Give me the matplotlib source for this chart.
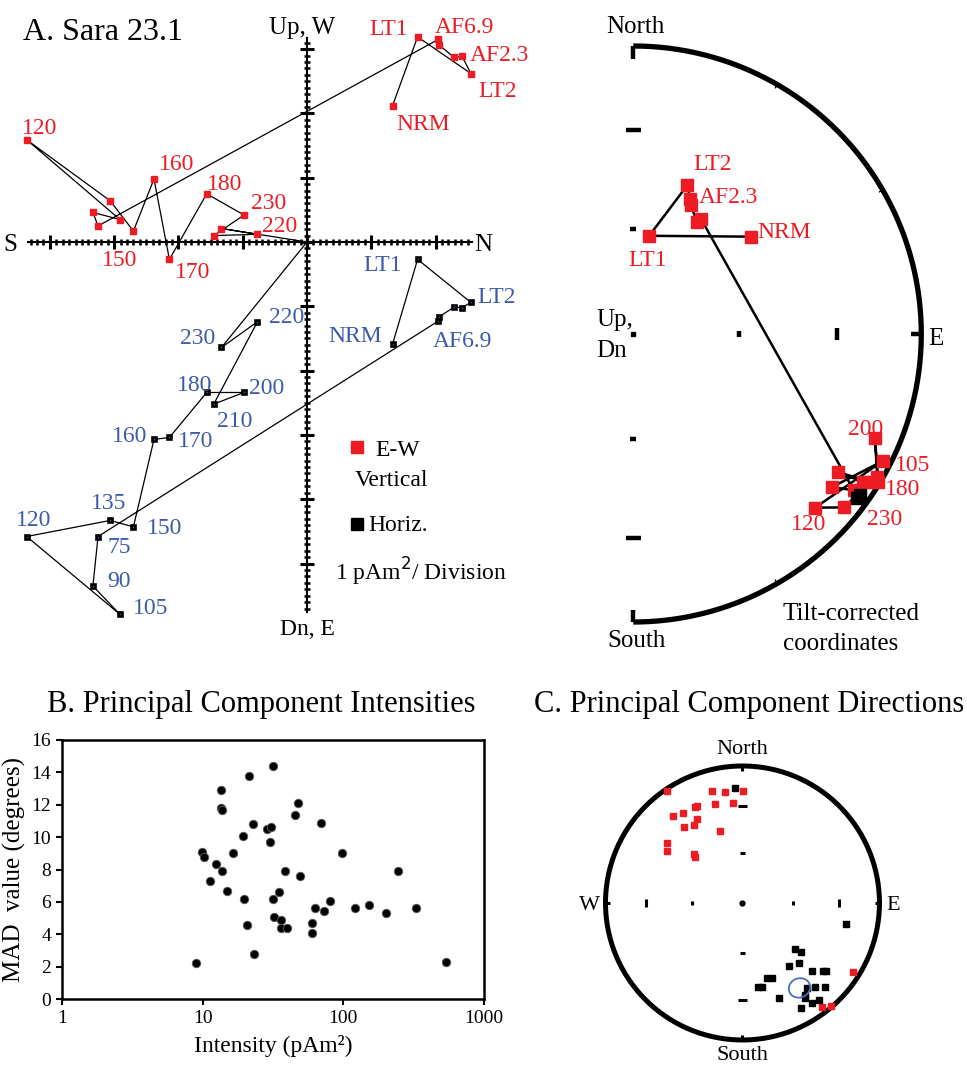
"""
Sara 23.1 demagnetization summary: orthogonal vector plot, tilt-corrected
equal-area net, and principal-component intensities / directions.
"""
import numpy as np
import matplotlib
matplotlib.use('Agg')
import matplotlib.pyplot as plt
from matplotlib.collections import LineCollection
from matplotlib.patches import Ellipse
from matplotlib.ticker import FuncFormatter, NullLocator

plt.rcParams['font.family'] = ['Liberation Serif', 'DejaVu Serif']

RED = '#ed1c24'
BLUE = '#3d5ba9'
ELLIPSE_BLUE = '#4a6fc4'

W_PX, H_PX = 967, 1065

# ---- Sara 23.1 demagnetization steps (moment components, pAm^2) ----
STEPS = ['NRM', 'LT1', 'LT2', 'AF2.3', '', '', 'AF6.9',
         '75', '90', '105', '120', '135', '150', '160', '170',
         '180', '200', '210', '220', '230']
north = [1.33, 1.72, 2.55, 2.41, 2.29, 2.06, 2.04,
         -3.25, -3.33, -2.91, -4.36, -3.06, -2.70, -2.38, -2.14,
         -1.56, -0.98, -1.45, -0.77, -1.33]
up = [2.12, 3.19, 2.62, 2.89, 2.87, 3.06, 3.15,
      0.25, 0.46, 0.35, 1.59, 0.64, 0.17, 0.98, -0.27,
      0.75, 0.42, 0.10, 0.12, 0.21]
west = [-1.59, -0.27, -0.94, -1.02, -1.01, -1.16, -1.23,
        -4.58, -5.35, -5.79, -4.58, -4.33, -4.43, -3.07, -3.04,
        -2.34, -2.34, -2.52, -1.24, -1.64]

# label offsets (pixels) and alignment for each annotated step
VERT_LABELS = {
    'LT1': (-10, 10, 'right'), 'AF6.9': (-3, 14, 'left'),
    'AF2.3': (8, 3, 'left'), 'LT2': (7, -15, 'left'),
    'NRM': (4, -16, 'left'), '120': (-5, 14, 'left'),
    '160': (5, 17, 'left'), '180': (0, 12, 'left'),
    '230': (30, 28, 'left'), '220': (5, 10, 'left'),
    '150': (-31, -27, 'left'), '170': (6, -11, 'left'),
}
HORIZ_LABELS = {
    'LT1': (-16, -4, 'right'), 'LT2': (6, 7, 'left'),
    'NRM': (-11, 10, 'right'), 'AF6.9': (-5, -18, 'left'),
    '220': (12, 7, 'left'), '230': (-6, 11, 'right'),
    '180': (6, 9, 'right'), '200': (5, 6, 'left'),
    '210': (3, -15, 'left'), '160': (-7, 5, 'right'),
    '170': (9, -2, 'left'), '135': (-19, 19, 'left'),
    '120': (-11, 19, 'left'), '150': (14, 1, 'left'),
    '75': (9, -8, 'left'), '90': (14, 7, 'left'),
    '105': (13, 8, 'left'),
}

# ---- tilt-corrected directions, equal-area projection (unit radius) ----
net_east = [0.409, 0.055, 0.188, 0.197, 0.199, 0.222, 0.236,
            0.765, 0.689, 0.868, 0.631, 0.733, 0.822, 0.712, 0.799,
            0.851, 0.839, 0.847, 0.787, 0.777]
net_north = [0.338, 0.341, 0.517, 0.468, 0.448, 0.388, 0.398,
             -0.542, -0.532, -0.440, -0.603, -0.602, -0.513, -0.480, -0.513,
             -0.513, -0.362, -0.495, -0.559, -0.569]
net_lower = [False] * 18 + [True, True]
NET_LABELS = {
    'LT2': (6, 23, 'left'), 'AF2.3': (9, 4, 'left'),
    'NRM': (6, 7, 'left'), 'LT1': (-21, -22, 'left'),
    '200': (-27, 11, 'left'), '105': (12, -2, 'left'),
    '180': (7, -5, 'left'), '120': (-24, -14, 'left'),
    '230': (10, -19, 'left'),
}

# ---- principal components: intensity vs MAD ----
intensity = [8.95, 9.88, 10.15, 11.2, 12.4, 13.5, 13.5, 13.8, 13.8, 15.0,
             16.3, 19.2, 19.6, 20.8, 21.3, 22.7, 23.0, 28.6, 30.5, 30.2,
             31.5, 31.5, 31.9, 34.8, 35.9, 35.9, 38.6, 39.6, 45.7, 47.7,
             48.8, 60.0, 60.0, 63.0, 69.9, 72.3, 80.5, 97.5, 122, 153,
             200, 246, 327, 537]
mad = [2.20, 9.10, 8.79, 7.29, 8.32, 12.91, 11.82, 11.68, 7.91, 6.69,
       9.00, 10.09, 6.18, 4.57, 13.78, 10.81, 2.78, 10.48, 10.61, 9.68,
       14.39, 6.18, 5.09, 6.59, 4.88, 4.37, 7.91, 4.37, 11.37, 12.09,
       7.60, 4.72, 4.06, 5.60, 10.89, 5.46, 6.07, 9.00, 5.60, 5.79,
       5.29, 7.91, 5.60, 2.31]

# ---- principal component directions, equal-area projection ----
pc_up_east = [-0.552, -0.221, -0.127, 0.007, -0.066, -0.200, -0.348, -0.333,
              -0.509, -0.436, -0.333, -0.426, -0.353, -0.163, -0.552, -0.552,
              -0.353, -0.348, 0.805, 0.582, 0.645]
pc_up_north = [0.818, 0.815, 0.808, 0.820, 0.727, 0.720, 0.701, 0.710,
               0.633, 0.654, 0.616, 0.552, 0.572, 0.528, 0.438, 0.380,
               0.360, 0.338, -0.501, -0.762, -0.754]
pc_dn_east = [-0.054, 0.757, 0.387, 0.428, 0.411, 0.336, 0.504, 0.591,
              0.611, 0.178, 0.219, 0.112, 0.144, 0.470, 0.533, 0.603,
              0.270, 0.453, 0.457, 0.562, 0.504, 0.428]
pc_dn_north = [0.842, -0.156, -0.338, -0.355, -0.436, -0.457, -0.494, -0.494,
               -0.494, -0.550, -0.545, -0.611, -0.616, -0.618, -0.611, -0.616,
               -0.693, -0.669, -0.693, -0.708, -0.730, -0.766]
pc_mean = (0.416, -0.620)
pc_cone = (0.158, 0.140)


def px_axes(fig, left, top, right, bottom):
    """Add an axes given its pixel box (origin top-left)."""
    return fig.add_axes([left / W_PX, 1 - bottom / H_PX,
                         (right - left) / W_PX, (bottom - top) / H_PX])


def draw_cross(ax, s_end, n_end, up_end, dn_end):
    ax.plot([s_end, n_end], [0, 0], color='black', lw=1.5, zorder=1)
    ax.plot([0, 0], [dn_end, up_end], color='black', lw=1.5, zorder=1)
    minor = []
    for t in np.arange(np.ceil(s_end * 10), np.floor(n_end * 10) + 1) / 10:
        minor.append([(t, -0.05), (t, 0.05)])
    for t in np.arange(np.ceil(dn_end * 10), np.floor(up_end * 10) + 1) / 10:
        minor.append([(-0.05, t), (0.05, t)])
    ax.add_collection(LineCollection(minor, colors='black', linewidths=1.8, zorder=1))
    major = []
    for t in range(int(np.ceil(s_end)), int(np.floor(n_end)) + 1):
        major.append([(t, -0.11), (t, 0.11)])
    for t in range(int(np.ceil(dn_end)), int(np.floor(up_end)) + 1):
        major.append([(-0.11, t), (0.11, t)])
    ax.add_collection(LineCollection(major, colors='black', linewidths=2.2, zorder=1))


def plot_zijderveld(fig):
    ax = px_axes(fig, 0, 0, 560, 650)
    ax.set_xlim(-4.775, 3.935)
    ax.set_ylim(-6.345, 3.764)
    ax.axis('off')
    draw_cross(ax, -4.34, 2.57, 3.18, -5.75)

    # step paths end at the origin
    ax.plot(np.append(north, 0), np.append(up, 0), color='black', lw=0.9, zorder=2)
    ax.plot(np.append(north, 0), np.append(west, 0), color='black', lw=0.9, zorder=2)
    ax.plot(north, up, 's', color=RED, mec=RED, ms=5, zorder=3)
    ax.plot(north, west, 's', mfc=BLUE, mec='black', mew=1.9, ms=3.4, zorder=3)

    for name, (dx, dy, ha) in VERT_LABELS.items():
        i = STEPS.index(name)
        ax.annotate(name, (north[i], up[i]), xytext=(dx, dy), textcoords='offset pixels',
                    ha=ha, va='center_baseline', color=RED, fontsize=17)
    for name, (dx, dy, ha) in HORIZ_LABELS.items():
        i = STEPS.index(name)
        ax.annotate(name, (north[i], west[i]), xytext=(dx, dy), textcoords='offset pixels',
                    ha=ha, va='center_baseline', color=BLUE, fontsize=17)

    ax.text(-4.62, 0, 'S', ha='center', va='center_baseline', fontsize=18)
    ax.text(2.74, 0, 'N', ha='center', va='center_baseline', fontsize=18)
    ax.text(-0.08, 3.37, 'Up, W', ha='center', va='center_baseline', fontsize=18)
    ax.text(0.0, -5.99, 'Dn, E', ha='center', va='center_baseline', fontsize=17)

    # legend
    ax.plot([0.77], [-3.19], 's', color=RED, ms=9)
    ax.text(1.07, -3.20, 'E-W', ha='left', va='center_baseline', fontsize=17)
    ax.text(0.75, -3.67, 'Vertical', ha='left', va='center_baseline', fontsize=17)
    ax.plot([0.77], [-4.38], 's', color='black', ms=8)
    ax.text(0.95, -4.37, 'Horiz.', ha='left', va='center_baseline', fontsize=17)
    ax.text(0.44, -5.07, '1 pAm$^2$/ Division', ha='left', va='center_baseline', fontsize=17)

    fig.text(23 / W_PX, 1 - 40 / H_PX, 'A. Sara 23.1', ha='left', va='baseline', fontsize=23)


def plot_tilt_net(fig):
    ax = px_axes(fig, 583, 0, 967, 660)
    ax.set_xlim(-0.1747, 1.1587)
    ax.set_ylim(-1.1319, 1.1597)
    ax.axis('off')

    t = np.linspace(0, np.pi, 300)
    ax.plot(np.sin(t), np.cos(t), color='black', lw=3.8, solid_capstyle='butt')
    ticks = [[(0, 1.0), (0, 0.955)], [(0, -1.0), (0, -0.96)], [(0.965, 0), (1.0, 0)],
             [(-0.026, 0.707), (0.026, 0.707)], [(-0.026, -0.707), (0.026, -0.707)],
             [(-0.011, 0.366), (0.011, 0.366)], [(-0.011, -0.366), (0.011, -0.366)],
             [(0.366, -0.011), (0.366, 0.011)], [(0.707, -0.022), (0.707, 0.022)]]
    ax.add_collection(LineCollection(ticks, colors='black', linewidths=3.2))
    ax.plot([0], [0], 's', color='black', ms=3)
    # faint 30-degree marks on the rim
    rim = []
    for az in np.radians([30, 60, 120, 150]):
        rim.append([(np.sin(az), np.cos(az)), (0.985 * np.sin(az), 0.985 * np.cos(az))])
    ax.add_collection(LineCollection(rim, colors='black', linewidths=1.0))

    ax.plot(net_east, net_north, color='black', lw=1.8, zorder=2)
    east = np.array(net_east)
    nor = np.array(net_north)
    low = np.array(net_lower)
    ax.plot(east[~low], nor[~low], 's', color=RED, ms=8.4, zorder=3)
    ax.plot(east[low], nor[low], 's', color='black', ms=8.4, zorder=3)

    for name, (dx, dy, ha) in NET_LABELS.items():
        i = STEPS.index(name)
        ax.annotate(name, (net_east[i], net_north[i]), xytext=(dx, dy),
                    textcoords='offset pixels', ha=ha, va='center_baseline',
                    color=RED, fontsize=17, zorder=4)

    ax.text(-0.095, 1.073, 'North', ha='left', va='center_baseline', fontsize=18)
    ax.text(-0.129, 0.059, 'Up,', ha='left', va='center_baseline', fontsize=18)
    ax.text(-0.129, -0.049, 'Dn', ha='left', va='center_baseline', fontsize=18)
    ax.text(1.023, -0.010, 'E', ha='left', va='center_baseline', fontsize=18)
    ax.text(-0.091, -1.056, 'South', ha='left', va='center_baseline', fontsize=18)
    ax.text(0.519, -0.965, 'Tilt-corrected', ha='left', va='center_baseline', fontsize=18)
    ax.text(0.519, -1.069, 'coordinates', ha='left', va='center_baseline', fontsize=18)


def plot_intensities(fig):
    ax = px_axes(fig, 62, 740, 484, 999)
    ax.plot(intensity, mad, 'o', color='black', mec='#555555', mew=0.7, ms=6)
    ax.set_xscale('log')
    ax.set_xlim(1, 1000)
    ax.set_ylim(0, 16)
    ax.set_xticks([1, 10, 100, 1000])
    ax.xaxis.set_minor_locator(NullLocator())
    ax.xaxis.set_major_formatter(FuncFormatter(lambda v, p: f'{v:g}'))
    ax.set_yticks(range(0, 17, 2))
    ax.tick_params(direction='out', length=4, width=1.5, labelsize=14, pad=4)
    for sp in ax.spines.values():
        sp.set_linewidth(1.8)
    ax.set_xlabel('Intensity (pAm²)', fontsize=17, labelpad=6)
    ax.set_ylabel('MAD  value (degrees)', fontsize=18, labelpad=4)
    fig.text(261 / W_PX, 1 - 712 / H_PX, 'B. Principal Component Intensities',
             ha='center', va='baseline', fontsize=22)


def plot_directions(fig):
    ax = px_axes(fig, 540, 725, 967, 1065)
    ax.set_xlim(-1.478, 1.639)
    ax.set_ylim(-1.1825, 1.299)
    ax.axis('off')

    t = np.linspace(0, 2 * np.pi, 400)
    ax.plot(np.cos(t), np.sin(t), color='black', lw=3.6)
    ticks = [[(0, 1.0), (0, 0.965)], [(0, -1.0), (0, -0.965)],
             [(1.0, 0), (0.965, 0)], [(-1.0, 0), (-0.965, 0)],
             [(-0.03, 0.707), (0.03, 0.707)], [(-0.03, -0.707), (0.03, -0.707)],
             [(-0.018, 0.366), (0.018, 0.366)], [(-0.018, -0.366), (0.018, -0.366)],
             [(0.366, -0.015), (0.366, 0.015)], [(-0.366, -0.015), (-0.366, 0.015)],
             [(0.707, -0.028), (0.707, 0.028)], [(-0.707, -0.028), (-0.707, 0.028)]]
    ax.add_collection(LineCollection(ticks, colors='black', linewidths=2.2))
    ax.plot([0], [0], 'o', color='black', ms=3.5)

    ax.plot(pc_up_east, pc_up_north, 's', color=RED, ms=4.2, zorder=3)
    ax.plot(pc_dn_east, pc_dn_north, 's', color='black', ms=4.2, zorder=3)
    ax.add_patch(Ellipse(pc_mean, pc_cone[0], pc_cone[1], angle=20, fill=False,
                         ec=ELLIPSE_BLUE, lw=1.3, zorder=4))

    ax.text(0, 1.139, 'North', ha='center', va='center_baseline', fontsize=16)
    ax.text(-1.12, 0, 'W', ha='center', va='center_baseline', fontsize=16)
    ax.text(1.10, 0, 'E', ha='center', va='center_baseline', fontsize=16)
    ax.text(0, -1.095, 'South', ha='center', va='center_baseline', fontsize=16)
    fig.text(749 / W_PX, 1 - 712 / H_PX, 'C. Principal Component Directions',
             ha='center', va='baseline', fontsize=22)


def main():
    fig = plt.figure(figsize=(W_PX / 100, H_PX / 100), dpi=100)
    plot_zijderveld(fig)
    plot_tilt_net(fig)
    plot_intensities(fig)
    plot_directions(fig)
    fig.savefig('out.png', dpi=100)
    plt.close(fig)


if __name__ == '__main__':
    main()
